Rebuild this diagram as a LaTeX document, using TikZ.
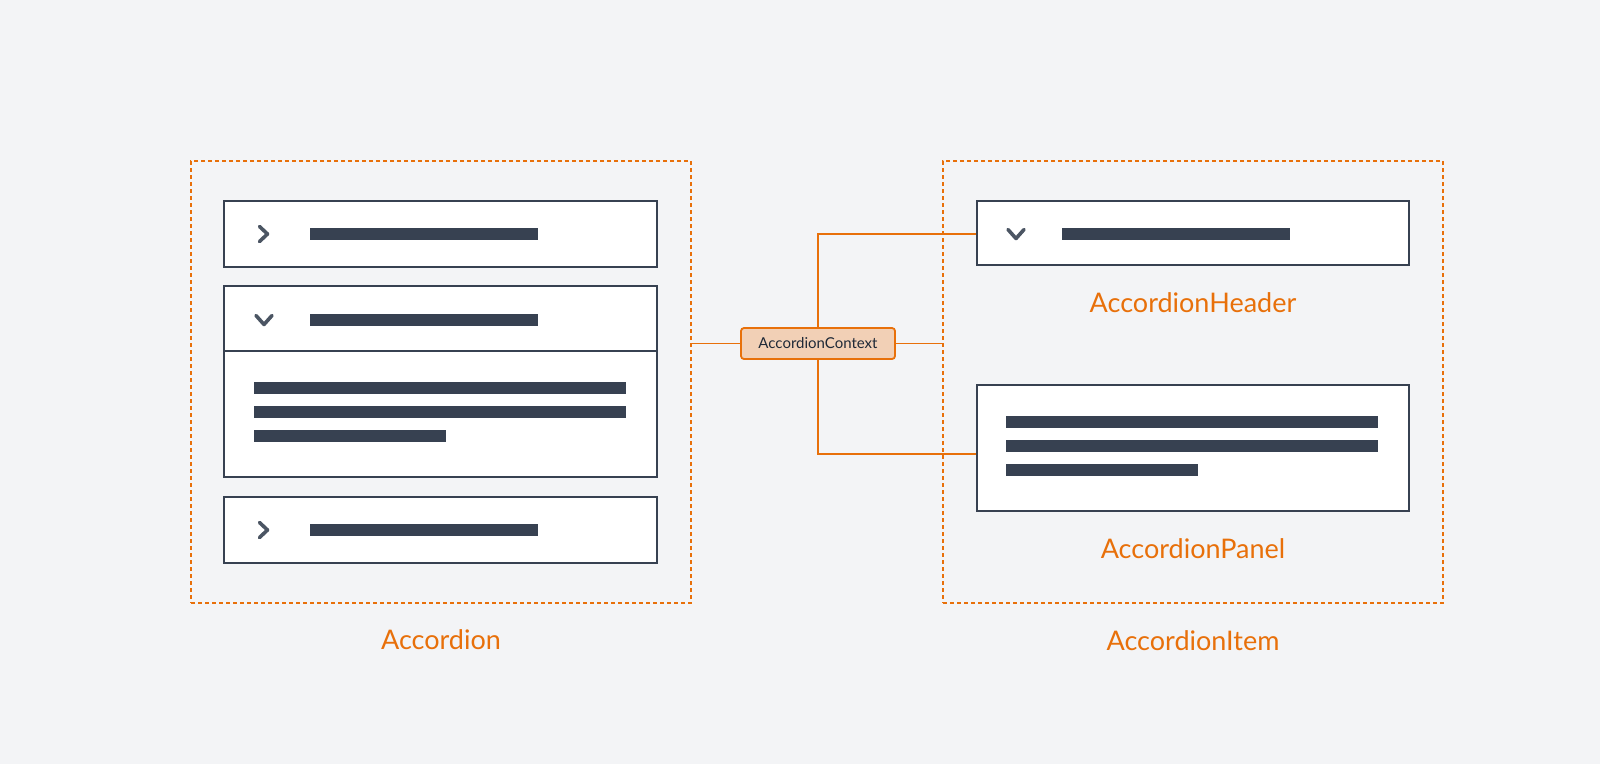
\documentclass[tikz,border=0pt]{standalone}
\usepackage{fontspec}
\setmainfont{Lato}
\usepackage {tikz}
\usetikzlibrary {positioning}
\usetikzlibrary{calc}
\definecolor{canvas}{HTML}{F3F4F6}
\definecolor{slate}{HTML}{374151}
\definecolor{chevgray}{HTML}{4B5563}
\definecolor{brand}{HTML}{E8700A}
\definecolor{peach}{HTML}{F2D0B6}
\definecolor{ink}{HTML}{1F2937}
\tikzset{
    group/.style = {rectangle,draw=brand,line width=1.6pt,dash pattern=on 4pt off 3pt,minimum width=500pt,minimum height=442pt,inner sep=0pt},
    item/.style = {rectangle,draw=slate,fill=white,line width=2pt,minimum width=433pt,inner sep=0pt},
    bar/.style = {rectangle,fill=slate,minimum height=12pt,inner sep=0pt,anchor=west},
    chevron/.style = {draw=chevgray,line width=3.6pt,line cap=round,line join=round},
    caption/.style = {text=brand,font=\fontsize{27}{32}\selectfont,anchor=base},
    context/.style = {rectangle,rounded corners=3pt,draw=brand,fill=peach,line width=1.8pt,minimum width=154pt,minimum height=31pt,inner sep=0pt,text=ink,font=\fontsize{15}{18}\selectfont},
    wire/.style = {draw=brand,line width=1.8pt},
    chevright/.pic = {\draw[chevron] (-4,-7.5) -- (4,0) -- (-4,7.5);},
    chevdown/.pic = {\draw[chevron] (-8,-4.5) -- (0,4.5) -- (8,-4.5);}}

\begin{document}
\begin{tikzpicture}[x=1pt,y=-1pt]
    \fill[canvas] (0,0) rectangle (1600,764);
    \useasboundingbox (0,0) rectangle (1600,764);
    \path (441,382) node[group] (accordion) {}
        + (0,267) node[caption] (accordionlabel) {Accordion}
        (1193,382) node[group] (accordionitem) {}
        + (0,268) node[caption] (accordionitemlabel) {AccordionItem};
    \path (440.5,234) node[item,minimum height=66pt] (itemA) {}
        + (0,84.5) node[item,minimum height=65pt] (itemBhead) {}
        + (0,180) node[item,minimum height=126pt] (itemBbody) {}
        + (0,296) node[item,minimum height=66pt] (itemC) {};
    \path (310,234) node[bar,minimum width=228pt] (barA) {}
        + (0,86) node[bar,minimum width=228pt] (barB) {}
        + (0,296) node[bar,minimum width=228pt] (barC) {}
        (254,388) node[bar,minimum width=372pt] (lineBa) {}
        + (0,24) node[bar,minimum width=372pt] (lineBb) {}
        + (0,48) node[bar,minimum width=192pt] (lineBc) {};
    \pic at (263.5,234) {chevright};
    \pic at (264,320) {chevdown};
    \pic at (263.5,530) {chevright};
    \path (1193,233) node[item,minimum width=432pt,minimum height=64pt] (header) {}
        + (0,79) node[caption] (headerlabel) {AccordionHeader}
        (1193,448) node[item,minimum width=432pt,minimum height=126pt] (panel) {}
        + (0,110) node[caption] (panellabel) {AccordionPanel};
    \path (1062,234) node[bar,minimum width=228pt] (barH) {}
        (1006,422) node[bar,minimum width=372pt] (linePa) {}
        + (0,24) node[bar,minimum width=372pt] (linePb) {}
        + (0,48) node[bar,minimum width=192pt] (linePc) {};
    \pic at (1016,234) {chevdown};
    \node[context] (ctx) at (818,343.5) {AccordionContext};
    \draw[wire] (ctx.west) -- (ctx.west -| accordion.east);
    \draw[wire] (ctx.east) -- (ctx.east -| accordionitem.west);
    \draw[wire] (ctx.north) |- ([yshift=-1pt]header.west);
    \draw[wire] (ctx.south) |- ([yshift=-6pt]panel.west);
\end{tikzpicture}
\end{document}
